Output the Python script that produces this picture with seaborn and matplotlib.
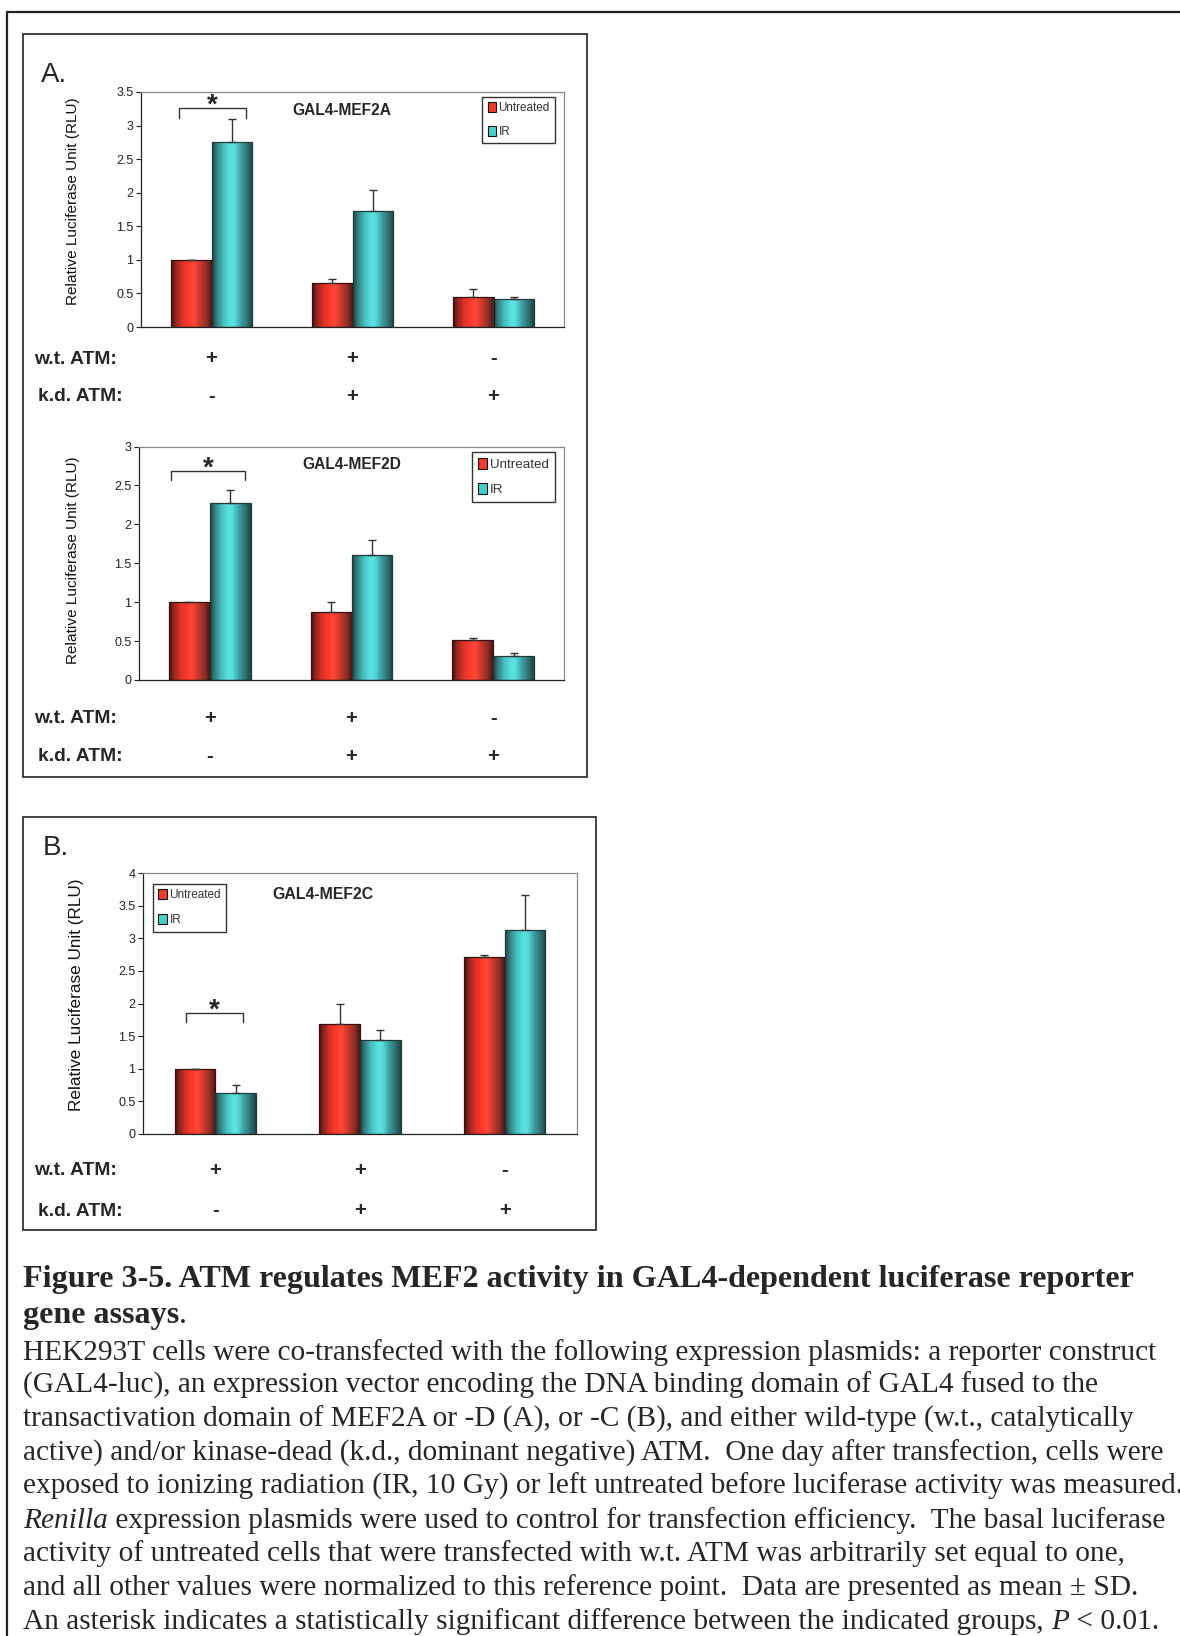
import numpy as np
import pandas as pd
import matplotlib
matplotlib.use("Agg")
import matplotlib.pyplot as plt
import seaborn as sns
from matplotlib.patches import Rectangle, Patch
from matplotlib.lines import Line2D
from matplotlib.colors import LinearSegmentedColormap
from matplotlib.transforms import blended_transform_factory
from matplotlib.font_manager import FontProperties

# ---------------- data ----------------
conditions = ["wt+/kd-", "wt+/kd+", "wt-/kd+"]
wt_atm = ["+", "+", "-"]
kd_atm = ["-", "+", "+"]
treatments = ["Untreated", "IR"]

mef2a_untreated = [1.00, 0.65, 0.44]
mef2a_untreated_sd = [0.00, 0.07, 0.13]
mef2a_ir = [2.75, 1.73, 0.41]
mef2a_ir_sd = [0.35, 0.31, 0.035]
mef2a_yticks = [0, 0.5, 1, 1.5, 2, 2.5, 3, 3.5]

mef2d_untreated = [1.00, 0.87, 0.52]
mef2d_untreated_sd = [0.00, 0.13, 0.02]
mef2d_ir = [2.28, 1.60, 0.31]
mef2d_ir_sd = [0.16, 0.20, 0.04]
mef2d_yticks = [0, 0.5, 1, 1.5, 2, 2.5, 3]

mef2c_untreated = [1.00, 1.68, 2.71]
mef2c_untreated_sd = [0.00, 0.32, 0.04]
mef2c_ir = [0.63, 1.44, 3.13]
mef2c_ir_sd = [0.12, 0.16, 0.53]
mef2c_yticks = [0, 0.5, 1, 1.5, 2, 2.5, 3, 3.5, 4]

ylabel = "Relative Luciferase Unit (RLU)"
row_labels = ["w.t. ATM:", "k.d. ATM:"]

caption_title = ["Figure 3-5. ATM regulates MEF2 activity in GAL4-dependent luciferase reporter",
                 "gene assays"]
caption_body = [
    "HEK293T cells were co-transfected with the following expression plasmids: a reporter construct",
    "(GAL4-luc), an expression vector encoding the DNA binding domain of GAL4 fused to the",
    "transactivation domain of MEF2A or -D (A), or -C (B), and either wild-type (w.t., catalytically",
    "active) and/or kinase-dead (k.d., dominant negative) ATM.  One day after transfection, cells were",
    "exposed to ionizing radiation (IR, 10 Gy) or left untreated before luciferase activity was measured.",
    "Renilla| expression plasmids were used to control for transfection efficiency.  The basal luciferase",
    "activity of untreated cells that were transfected with w.t. ATM was arbitrarily set equal to one,",
    "and all other values were normalized to this reference point.  Data are presented as mean \u00b1 SD.",
    "An asterisk indicates a statistically significant difference between the indicated groups, |P| < 0.01.",
]

# ---------------- style ----------------
sns.set_theme(style="white")
SANS = ["Liberation Sans", "DejaVu Sans"]
NARROW = ["Liberation Sans Narrow", "Liberation Sans", "DejaVu Sans"]
SERIF = ["Liberation Serif", "DejaVu Serif"]
plt.rcParams["font.family"] = SANS

RED = "#f03a2a"
CYAN = "#45d0d0"
red_cmap = LinearSegmentedColormap.from_list("r", [
    (0.0, "#3e0e0c"), (0.1, "#8a2420"), (0.28, "#e03226"), (0.45, "#ff3b2b"),
    (0.55, "#ff4838"), (0.7, "#d0382c"), (0.86, "#903028"), (1.0, "#4a1614")])
cyan_cmap = LinearSegmentedColormap.from_list("c", [
    (0.0, "#1a4040"), (0.1, "#347676"), (0.28, "#46c0c0"), (0.45, "#5ce2e2"),
    (0.55, "#58dede"), (0.7, "#3ca4a4"), (0.86, "#327272"), (1.0, "#1a4444")])

W, H = 1180, 1636
fig = plt.figure(figsize=(W / 100, H / 100), dpi=100)
fig.patch.set_facecolor("white")


def fx(px):
    return px / W


def fy(py):
    return 1 - py / H


def panel(rect, untreated, ir, un_sd, ir_sd, yticks, title, title_xy,
          leg_loc, leg_anchor, bracket, ylab_pos, rows_y, bar_width,
          ylab_size=11.1, leg_size=9.0, leg_spacing=0.85, title_size=11.2):
    ax = fig.add_axes(rect)
    df = pd.DataFrame({
        "condition": conditions * 2,
        "treatment": [treatments[0]] * 3 + [treatments[1]] * 3,
        "rlu": untreated + ir,
    })
    sns.barplot(data=df, x="condition", y="rlu", hue="treatment",
                order=conditions, hue_order=treatments,
                palette=[RED, CYAN], saturation=1, width=bar_width,
                errorbar=None, legend=False, ax=ax, linewidth=0)
    ymax = yticks[-1]
    grad = np.linspace(0, 1, 256)[None, :]
    edge_cols = ["#3a1010", "#1c3c3c"]
    for cont, cmap, ec in zip(ax.containers, [red_cmap, cyan_cmap], edge_cols):
        for b in cont:
            x0, y0, w, h = b.get_x(), b.get_y(), b.get_width(), b.get_height()
            im = ax.imshow(grad, cmap=cmap, extent=[x0, x0 + w, y0, y0 + h],
                           aspect="auto", interpolation="bilinear",
                           zorder=b.get_zorder() + 0.01)
            im.set_clip_path(b)
            ax.add_patch(Rectangle((x0, y0), w, h, fill=False, edgecolor=ec,
                                   linewidth=0.9, zorder=b.get_zorder() + 0.02))
    for cont, sd in zip(ax.containers, [un_sd, ir_sd]):
        xs = [b.get_x() + b.get_width() / 2 for b in cont]
        ys = [b.get_height() for b in cont]
        ax.errorbar(xs, ys, yerr=[np.zeros(len(sd)), sd], fmt="none",
                    ecolor="#333333", elinewidth=1.0, capsize=3.2,
                    capthick=1.0, zorder=5)
    ax.set_xlim(-0.5, 2.5)
    ax.set_ylim(0, ymax)
    ax.set_xticks([])
    ax.set_xlabel("")
    ax.set_ylabel("")
    ax.set_yticks(yticks)
    ax.set_yticklabels([f"{v:g}" for v in yticks])
    for lab in ax.get_yticklabels():
        lab.set_fontfamily(NARROW)
        lab.set_fontsize(9)
        lab.set_color("#222222")
    ax.tick_params(axis="y", direction="out", length=3.5, width=0.8,
                   color="#222222", pad=2, left=True)
    for s in ["left", "bottom"]:
        ax.spines[s].set_color("#222222")
        ax.spines[s].set_linewidth(0.9)
    for s in ["top", "right"]:
        ax.spines[s].set_color("#8a8a8a")
        ax.spines[s].set_linewidth(0.9)
    ax.set_facecolor("white")

    # y label
    ax.text(ylab_pos[0], ylab_pos[1], ylabel, transform=ax.transAxes,
            rotation=90, ha="center", va="center", fontsize=ylab_size,
            family=SANS, color="#111111")
    # title
    ax.text(title_xy[0], title_xy[1], title, transform=ax.transAxes,
            ha="center", va="center", fontweight="bold", fontsize=title_size,
            family=SANS)
    # legend
    handles = [Patch(facecolor=RED, edgecolor="#111111", linewidth=0.8),
               Patch(facecolor=CYAN, edgecolor="#111111", linewidth=0.8)]
    leg = ax.legend(handles, treatments, loc=leg_loc, bbox_to_anchor=leg_anchor,
                    borderaxespad=0, frameon=True, fancybox=False,
                    edgecolor="#333333", framealpha=1,
                    prop=FontProperties(family=NARROW, size=leg_size),
                    handlelength=0.7, handleheight=0.9, handletextpad=0.25,
                    labelspacing=leg_spacing, borderpad=0.45)
    leg.get_frame().set_linewidth(1.0)
    for t in leg.get_texts():
        t.set_color("#333333")
    # significance bracket on first group
    bl, br, btop, bbot = bracket
    ax.plot([bl, bl, br, br], [bbot, btop, btop, bbot], color="#333333",
            lw=1.0, solid_joinstyle="miter", zorder=6, clip_on=False)
    ax.annotate("*", xy=((bl + br) / 2, btop), xytext=(0, -3.5),
                textcoords="offset points", ha="center", va="baseline",
                fontsize=20, fontweight="bold", family=SANS)
    # +/- rows
    tr = blended_transform_factory(ax.transData, fig.transFigure)
    for row_i, (signs, ypx) in enumerate(zip([wt_atm, kd_atm], rows_y)):
        for i, s in enumerate(signs):
            ax.text(i, fy(ypx), s, transform=tr, ha="center", va="center",
                    fontsize=14.5, fontweight="bold", family=SANS, clip_on=False)
        fig.text(fx(34.4 if row_i == 0 else 37.6), fy(ypx), row_labels[row_i],
                 ha="left", va="center", fontsize=13.9, fontweight="bold",
                 family=SANS)
    return ax


# outer page border
fig.add_artist(Line2D([fx(7), 1.0], [fy(12), fy(12)], color="#222222", lw=1.6))
fig.add_artist(Line2D([fx(7), fx(7)], [fy(12), 0.0], color="#222222", lw=1.6))
# panel boxes
fig.add_artist(Rectangle((fx(23), fy(777)), fx(587) - fx(23), (777 - 34.4) / H,
                         fill=False, edgecolor="#222222", lw=1.2,
                         transform=fig.transFigure))
fig.add_artist(Rectangle((fx(23), fy(1230)), fx(596) - fx(23), (1230 - 817) / H,
                         fill=False, edgecolor="#222222", lw=1.2,
                         transform=fig.transFigure))
fig.text(fx(41), fy(82), "A.", fontsize=20, family=SANS, va="baseline", ha="left")
fig.text(fx(43), fy(855), "B.", fontsize=20, family=SANS, va="baseline", ha="left")

panel([fx(141), fy(327), (564 - 141) / W, (327 - 92) / H],
      mef2a_untreated, mef2a_ir, mef2a_untreated_sd, mef2a_ir_sd, mef2a_yticks,
      "GAL4-MEF2A", (0.475, 0.921), "upper right", (0.979, 0.979),
      (-0.227, 0.245, 3.26, 3.11), (-0.16, 0.537), (359, 396.5), 0.575,
      leg_size=8.4, leg_spacing=1.0)

panel([fx(139), fy(680), (564 - 139) / W, (680 - 446.5) / H],
      mef2d_untreated, mef2d_ir, mef2d_untreated_sd, mef2d_ir_sd, mef2d_yticks,
      "GAL4-MEF2D", (0.5, 0.921), "upper right", (0.979, 0.976),
      (-0.274, 0.247, 2.69, 2.57), (-0.155, 0.515), (719, 756.5), 0.575,
      leg_size=9.6, leg_spacing=0.9)

panel([fx(143), fy(1134), (577 - 143) / W, (1134 - 873) / H],
      mef2c_untreated, mef2c_ir, mef2c_untreated_sd, mef2c_ir_sd, mef2c_yticks,
      "GAL4-MEF2C", (0.415, 0.916), "upper left", (0.023, 0.958),
      (-0.205, 0.192, 1.854, 1.71), (-0.153, 0.533), (1170.6, 1211), 0.563,
      ylab_size=12.3, leg_size=8.5, leg_spacing=1.1, title_size=11.4)

# ---------------- caption ----------------
renderer = fig.canvas.get_renderer()


def width_of(s, size, **kw):
    t = fig.text(0, 0, s, fontsize=size, family=SERIF, **kw)
    w = t.get_window_extent(renderer).width
    t.remove()
    return w


def advance(s, size, **kw):
    return width_of(s + "|", size, **kw) - width_of("|", size, **kw)


base = 20
bold_size = base * 1112 / width_of(caption_title[0], base, fontweight="bold")
body_size = base * 1132 / width_of(caption_body[0], base)


def draw_runs(x_px, y_px, runs, size):
    x = x_px
    for s, kw in runs:
        fig.text(fx(x), fy(y_px), s, fontsize=size, family=SERIF,
                 ha="left", va="baseline", **kw)
        x += advance(s, size, **kw)


draw_runs(23, 1287.5, [(caption_title[0], {"fontweight": "bold"})], bold_size)
draw_runs(23, 1323, [(caption_title[1], {"fontweight": "bold"}), (".", {})], bold_size)

for k, line in enumerate(caption_body):
    y = 1359.5 + 33.65 * k
    parts = line.split("|")
    runs = []
    for j, p in enumerate(parts):
        if p == "":
            continue
        italic = (k == 5 and j == 0) or (k == 8 and j == 1)
        runs.append((p, {"style": "italic"} if italic else {}))
    draw_runs(23, y, runs, body_size)

fig.savefig("out.png", dpi=100, facecolor="white")
